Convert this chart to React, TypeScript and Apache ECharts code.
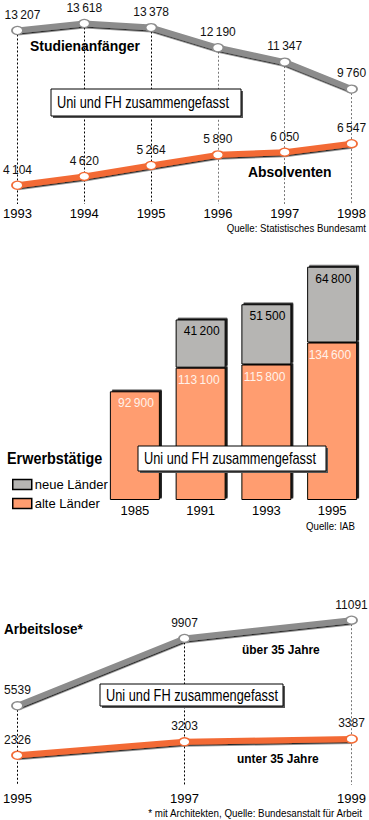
import React, { useEffect, useRef } from "react";
import * as echarts from "echarts";

// Chart 1: Studienanfänger / Absolventen
const years1 = ["1993", "1994", "1995", "1996", "1997", "1998"];
const studienanfaenger = [13207, 13618, 13378, 12190, 11347, 9760];
const absolventen = [4104, 4620, 5264, 5890, 6050, 6547];

// Chart 2: Erwerbstätige
const years2 = ["1985", "1991", "1993", "1995"];
const alteLaender = [92900, 113100, 115800, 134600];
const neueLaender = [null, 41200, 51500, 64800];

// Chart 3: Arbeitslose
const years3 = ["1995", "1997", "1999"];
const ueber35 = [5539, 9907, 11091];
const unter35 = [2326, 3203, 3387];

const FONT = "'Liberation Sans', Arial, sans-serif";

const fmt = (v: number) => {
  const s = String(Math.round(v));
  return s.replace(/\B(?=(\d{3})+(?!\d))/g, "\u2009");
};

const GREY_LINE = "#8c8c8c";
const ORANGE_LINE = "#f36b35";
const ORANGE_BAR = "#ff9d70";
const GREY_BAR = "#b6b5b3";

function lineSeries(
  xi: number,
  yi: number,
  data: number[],
  color: string,
  formatter: (v: number) => string,
  firstLeft = false
) {
  return {
    type: "line",
    xAxisIndex: xi,
    yAxisIndex: yi,
    z: 5,
    data: data.map((v, i) =>
      i === 0 && firstLeft ? { value: v, label: { offset: [5, 0] } } : { value: v }
    ),
    symbol: "circle",
    symbolSize: [11, 8],
    itemStyle: { color: "#ffffff", borderColor: color, borderWidth: 1.5 },
    lineStyle: {
      color,
      width: 6,
      shadowColor: "rgba(0,0,0,0.85)",
      shadowOffsetY: 1.5,
      shadowOffsetX: 0.5,
      shadowBlur: 1,
    },
    label: {
      show: true,
      position: "top",
      distance: 5,
      color: "#111",
      fontSize: 12,
      fontFamily: FONT,
      formatter: (p: any) => formatter(p.value),
    },
  };
}

function dropLines(
  xi: number,
  yi: number,
  cats: string[],
  data: number[],
  min: number,
  colors: string[]
) {
  return {
    type: "line",
    xAxisIndex: xi,
    yAxisIndex: yi,
    z: 1,
    data: data,
    symbol: "none",
    silent: true,
    lineStyle: { opacity: 0 },
    markLine: {
      silent: true,
      symbol: ["none", "none"],
      label: { show: false },
      z: 1,
      data: cats.map((c, i) => [
        {
          coord: [c, data[i]],
          lineStyle: { color: colors[i], type: [2, 2], width: 1 },
        },
        { coord: [c, min] },
      ]),
    },
  };
}

function box(x: number, y: number, w: number, h: number) {
  return {
    type: "group",
    x,
    y,
    z: 20,
    children: [
      { type: "rect", z: 20, shape: { x: 2, y: 2, width: w, height: h }, style: { fill: "#555" } },
      {
        type: "rect",
        z: 21,
        shape: { x: 0, y: 0, width: w, height: h },
        style: { fill: "#fff", stroke: "#000", lineWidth: 1 },
      },
      {
        type: "text",
        z: 22,
        x: 6,
        y: h / 2,
        scaleX: 0.8,
        style: {
          text: "Uni und FH zusammengefasst",
          fontSize: 16,
          fontFamily: FONT,
          fill: "#000",
          textVerticalAlign: "middle",
        },
      },
    ],
  };
}

function txt(
  x: number,
  y: number,
  text: string,
  size: number,
  bold = false,
  align = "left",
  sx = 1
) {
  return {
    type: "text",
    x,
    y,
    z: 20,
    scaleX: sx,
    style: {
      text,
      fontSize: size,
      fontWeight: bold ? "bold" : "normal",
      fontFamily: FONT,
      fill: "#000",
      textAlign: align,
      textVerticalAlign: "middle",
    },
  };
}

export default function App() {
  const ref = useRef<HTMLDivElement>(null);
  useEffect(() => {
    if (!ref.current) return;
    const chart = echarts.init(ref.current, undefined, { renderer: "svg" });
    const catAxis = (gi: number, cats: string[], gap: boolean, margin: number) => ({
      type: "category",
      gridIndex: gi,
      data: cats,
      boundaryGap: gap,
      axisLine: { show: false },
      axisTick: { show: false },
      axisLabel: { color: "#000", fontSize: 13, fontFamily: FONT, margin },
    });
    const valAxis = (gi: number, min: number, max: number) => ({
      type: "value",
      gridIndex: gi,
      min,
      max,
      show: false,
      splitLine: { show: false },
    });
    const barStyle = (color: string) => ({
      color,
      borderColor: "#000",
      borderWidth: 1,
      shadowColor: "rgba(0,0,0,0.9)",
      shadowOffsetX: 2,
      shadowOffsetY: -1.5,
      shadowBlur: 0.5,
    });
    const option: any = {
      animation: false,
      grid: [
        { left: 13, width: 341, top: 0, height: 204 },
        { left: 102, width: 263, top: 266, height: 234 },
        { left: 13, width: 341, top: 600, height: 185 },
      ],
      xAxis: [catAxis(0, years1, false, 3), catAxis(1, years2, true, 4), catAxis(2, years3, false, 7)],
      yAxis: [valAxis(0, 3000, 15000), valAxis(1, 0, 200000), valAxis(2, 400, 12400)],
      legend: {
        left: 7,
        top: 473,
        orient: "vertical",
        itemWidth: 19,
        itemHeight: 10,
        itemGap: 6,
        icon: "rect",
        data: ["neue Länder", "alte Länder"],
        textStyle: { fontSize: 13, fontFamily: FONT, color: "#000", padding: [0, 0, 0, -2] },
        itemStyle: { borderColor: "#000", borderWidth: 1.5 },
      },
      series: [
        dropLines(0, 0, years1, studienanfaenger, 3000, ["#000", "#000", "#000", "#777", "#777", "#777"]),
        lineSeries(0, 0, studienanfaenger, GREY_LINE, fmt, true),
        lineSeries(0, 0, absolventen, ORANGE_LINE, fmt),
        {
          type: "bar",
          name: "alte Länder",
          xAxisIndex: 1,
          yAxisIndex: 1,
          stack: "e",
          barWidth: 50,
          z: 2,
          data: alteLaender,
          itemStyle: barStyle(ORANGE_BAR),
          label: {
            show: true,
            position: "insideTopRight",
            distance: 6,
            color: "#fff2ea",
            fontSize: 12,
            fontFamily: FONT,
            formatter: (p: any) => fmt(p.value),
          },
        },
        {
          type: "bar",
          name: "neue Länder",
          xAxisIndex: 1,
          yAxisIndex: 1,
          stack: "e",
          barWidth: 50,
          z: 2,
          data: neueLaender,
          itemStyle: barStyle(GREY_BAR),
          label: {
            show: true,
            position: "insideTopRight",
            distance: 6,
            color: "#000",
            fontSize: 12,
            fontFamily: FONT,
            formatter: (p: any) => (p.value == null ? "" : fmt(p.value)),
          },
        },
        dropLines(2, 2, years3, ueber35, 400, ["#000", "#000", "#777"]),
        lineSeries(2, 2, ueber35, GREY_LINE, (v) => String(v)),
        lineSeries(2, 2, unter35, ORANGE_LINE, (v) => String(v)),
      ],
      graphic: [
        txt(30, 46, "Studienanfänger", 15, true, "left", 0.93),
        txt(248, 172, "Absolventen", 15, true, "left", 0.93),
        box(51, 89, 190, 27),
        txt(366, 228, "Quelle: Statistisches Bundesamt", 11, false, "right", 0.88),
        txt(7, 458, "Erwerbstätige", 16, true, "left", 0.9),
        box(138, 446, 188, 25),
        txt(355, 526, "Quelle: IAB", 11, false, "right", 0.88),
        txt(4, 629, "Arbeitslose*", 15, true, "left", 0.9),
        txt(242, 650, "über 35 Jahre", 13, true, "left", 0.92),
        box(100, 684, 183, 22),
        txt(237, 759, "unter 35 Jahre", 13, true, "left", 0.92),
        txt(362, 813, "* mit Architekten, Quelle: Bundesanstalt für Arbeit", 11, false, "right", 0.89),
      ],
    };
    chart.setOption(option);
    return () => chart.dispose();
  }, []);
  return (
    <div
      ref={ref}
      style={{ position: "absolute", left: 0, top: 0, width: 369, height: 820, background: "#fff" }}
    />
  );
}
